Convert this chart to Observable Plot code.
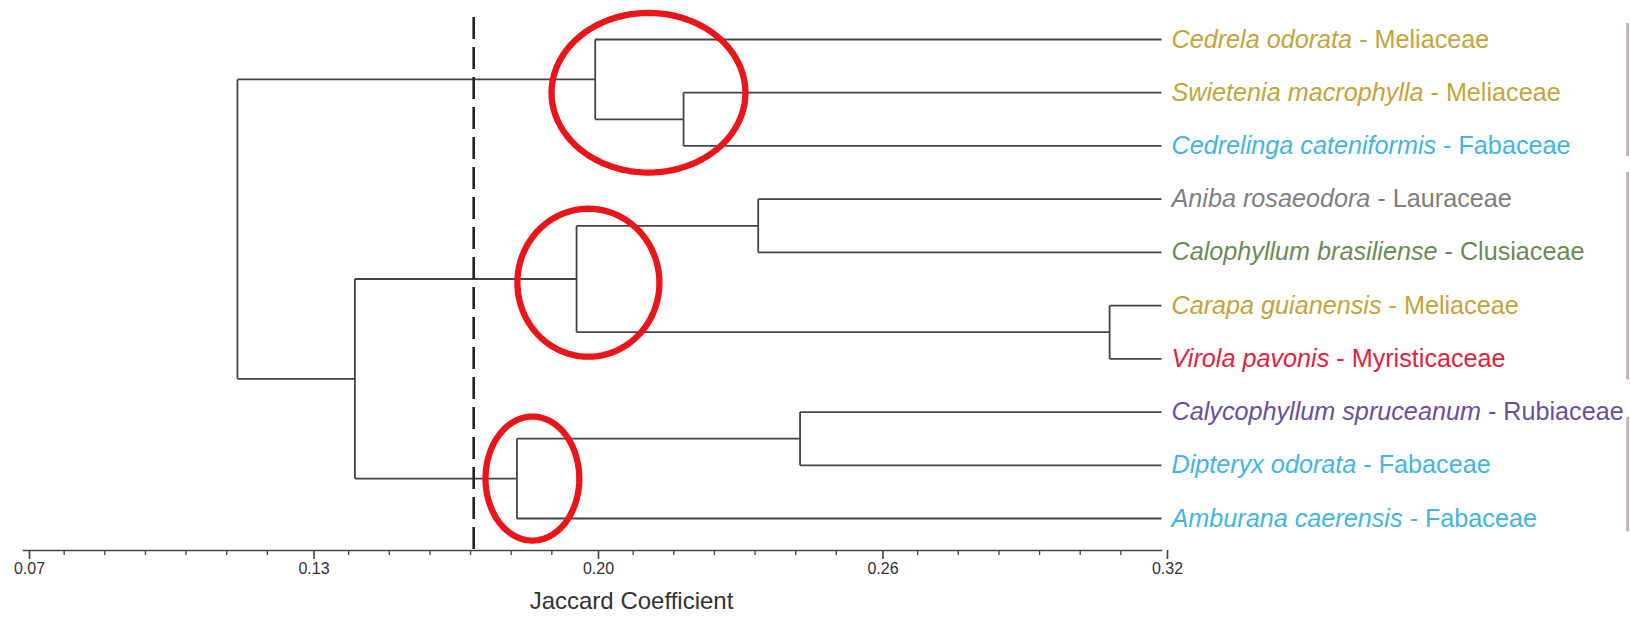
<!DOCTYPE html>
<html><head><meta charset="utf-8">
<script src="https://cdn.jsdelivr.net/npm/d3@7"></script>
<script src="https://cdn.jsdelivr.net/npm/@observablehq/plot@0.6"></script>
<style>body{margin:0;background:#fff} #chart svg{display:block}</style>
</head><body><div id="chart"></div>
<script>
const species = ["Cedrela odorata","Swietenia macrophylla","Cedrelinga cateniformis","Aniba rosaeodora","Calophyllum brasiliense","Carapa guianensis","Virola pavonis","Calycophyllum spruceanum","Dipteryx odorata","Amburana caerensis"];
const families = ["Meliaceae","Meliaceae","Fabaceae","Lauraceae","Clusiaceae","Meliaceae","Myristicaceae","Rubiaceae","Fabaceae","Fabaceae"];
const familyNames = ["Meliaceae","Fabaceae","Lauraceae","Clusiaceae","Myristicaceae","Rubiaceae"];
const familyColors = ["#c6a43a","#42b6e2","#808080","#6a8c52","#e3223a","#6a4f9e"];
// merges: [childA, childB, coefficient]; leaves 0-9, merged nodes 10+
const mergeA = [1, 0, 3, 5, 12, 7, 15, 14, 11];
const mergeB = [2, 10, 4, 6, 13, 8, 9, 16, 17];
const mergeH = [0.215, 0.1956, 0.2314, 0.3086, 0.1915, 0.2406, 0.1784, 0.1428, 0.117];
const leafLevel = 0.32;
const cutLevel = 0.1689;
const majorTicks = [0.07, 0.1325, 0.195, 0.2575, 0.32];
const tickLabels = ["0.07","0.13","0.20","0.26","0.32"];
const minorPerMajor = 7;
// annotation ellipses (centre x, centre y in leaf rows, radii)
const ellipseCX = [0.2073, 0.1941, 0.1818];
const ellipseCY = [1.0, 4.57, 8.25];
const ellipseRX = [0.0213, 0.0156, 0.0103];
const ellipseRY = [1.5, 1.39, 1.165];
// bracket lines cut off at the right edge
const bracketY1 = [-0.3, 2.5, 7.1];
const bracketY2 = [2.2, 6.4, 9.25];
const bracketX = 0.4224;
const axisTitle = "Jaccard Coefficient";

const colorOf = f => familyColors[familyNames.indexOf(f)];
const nx = species.map(() => leafLevel);
const ny = species.map((_, i) => i);
const segs = [];
mergeH.forEach((h, k) => {
  const a = mergeA[k], b = mergeB[k];
  segs.push({x1: nx[a], y1: ny[a], x2: h, y2: ny[a]});
  segs.push({x1: nx[b], y1: ny[b], x2: h, y2: ny[b]});
  segs.push({x1: h, y1: ny[a], x2: h, y2: ny[b]});
  nx.push(h); ny.push((ny[a] + ny[b]) / 2);
});
const leaves = species.map((s, i) => ({s, f: families[i], y: i, label: s + " - " + families[i]}));
const minorTicks = [];
for (let i = 0; i < majorTicks.length - 1; i++)
  for (let j = 1; j < minorPerMajor; j++)
    minorTicks.push(majorTicks[i] + j * (majorTicks[i + 1] - majorTicks[i]) / minorPerMajor);
const ellPts = [];
ellipseCX.forEach((cx, e) => {
  for (let t = 0; t <= 96; t++) {
    const a = t / 96 * 2 * Math.PI;
    ellPts.push({e, x: cx + ellipseRX[e] * Math.cos(a), y: ellipseCY[e] + ellipseRY[e] * Math.sin(a)});
  }
});
const brackets = bracketY1.map((y1, i) => ({x: bracketX, y1, y2: bracketY2[i]}));

const chart = Plot.plot({
  width: 1630, height: 619,
  marginTop: 17, marginBottom: 69, marginLeft: 23, marginRight: 469,
  style: {fontFamily: "Liberation Sans, Arial, sans-serif", background: "#fff"},
  x: {domain: [0.07, 0.32]},
  y: {domain: [0, 9], range: [39, 518], axis: null},
  marks: [
    Plot.frame({anchor: "bottom", stroke: "#444", strokeWidth: 1.6}),
    Plot.axisX({ticks: minorTicks, tickSize: 5, tickFormat: () => "", stroke: "#444", strokeWidth: 1.3, label: null}),
    Plot.axisX({ticks: majorTicks, tickSize: 9, tickPadding: 3, tickFormat: (d, i) => tickLabels[i], fontSize: 16, fill: "#333", stroke: "#444", strokeWidth: 1.6, dx: 6, label: null}),
    Plot.link(segs, {x1: "x1", y1: "y1", x2: "x2", y2: "y2", stroke: "#444", strokeWidth: 1.8}),
    Plot.ruleX([cutLevel], {stroke: "#222", strokeWidth: 2.6, strokeDasharray: "22,8"}),
    Plot.ruleX(brackets, {x: "x", y1: "y1", y2: "y2", stroke: "#c6b0b8", strokeWidth: 3}),
    Plot.line(ellPts, {x: "x", y: "y", z: "e", stroke: "#ea1419", strokeWidth: 6.3}),
    Plot.text(leaves, {x: leafLevel, y: "y", text: "label", fill: d => colorOf(d.f), textAnchor: "start", dx: 10, fontSize: 25.2}),
    Plot.text([axisTitle], {frameAnchor: "bottom", dy: 58, dx: 39, fontSize: 24, fill: "#333"})
  ]
});
const labelSet = new Set(leaves.map(d => d.label));
d3.select(chart).selectAll("text").filter(function() { return labelSet.has(this.textContent); }).each(function() {
  const [sp, fam] = this.textContent.split(" - ");
  const t = d3.select(this);
  t.text(null);
  t.append("tspan").attr("font-style", "italic").text(sp);
  t.append("tspan").text(" - " + fam);
});
document.getElementById("chart").append(chart);
</script></body></html>
